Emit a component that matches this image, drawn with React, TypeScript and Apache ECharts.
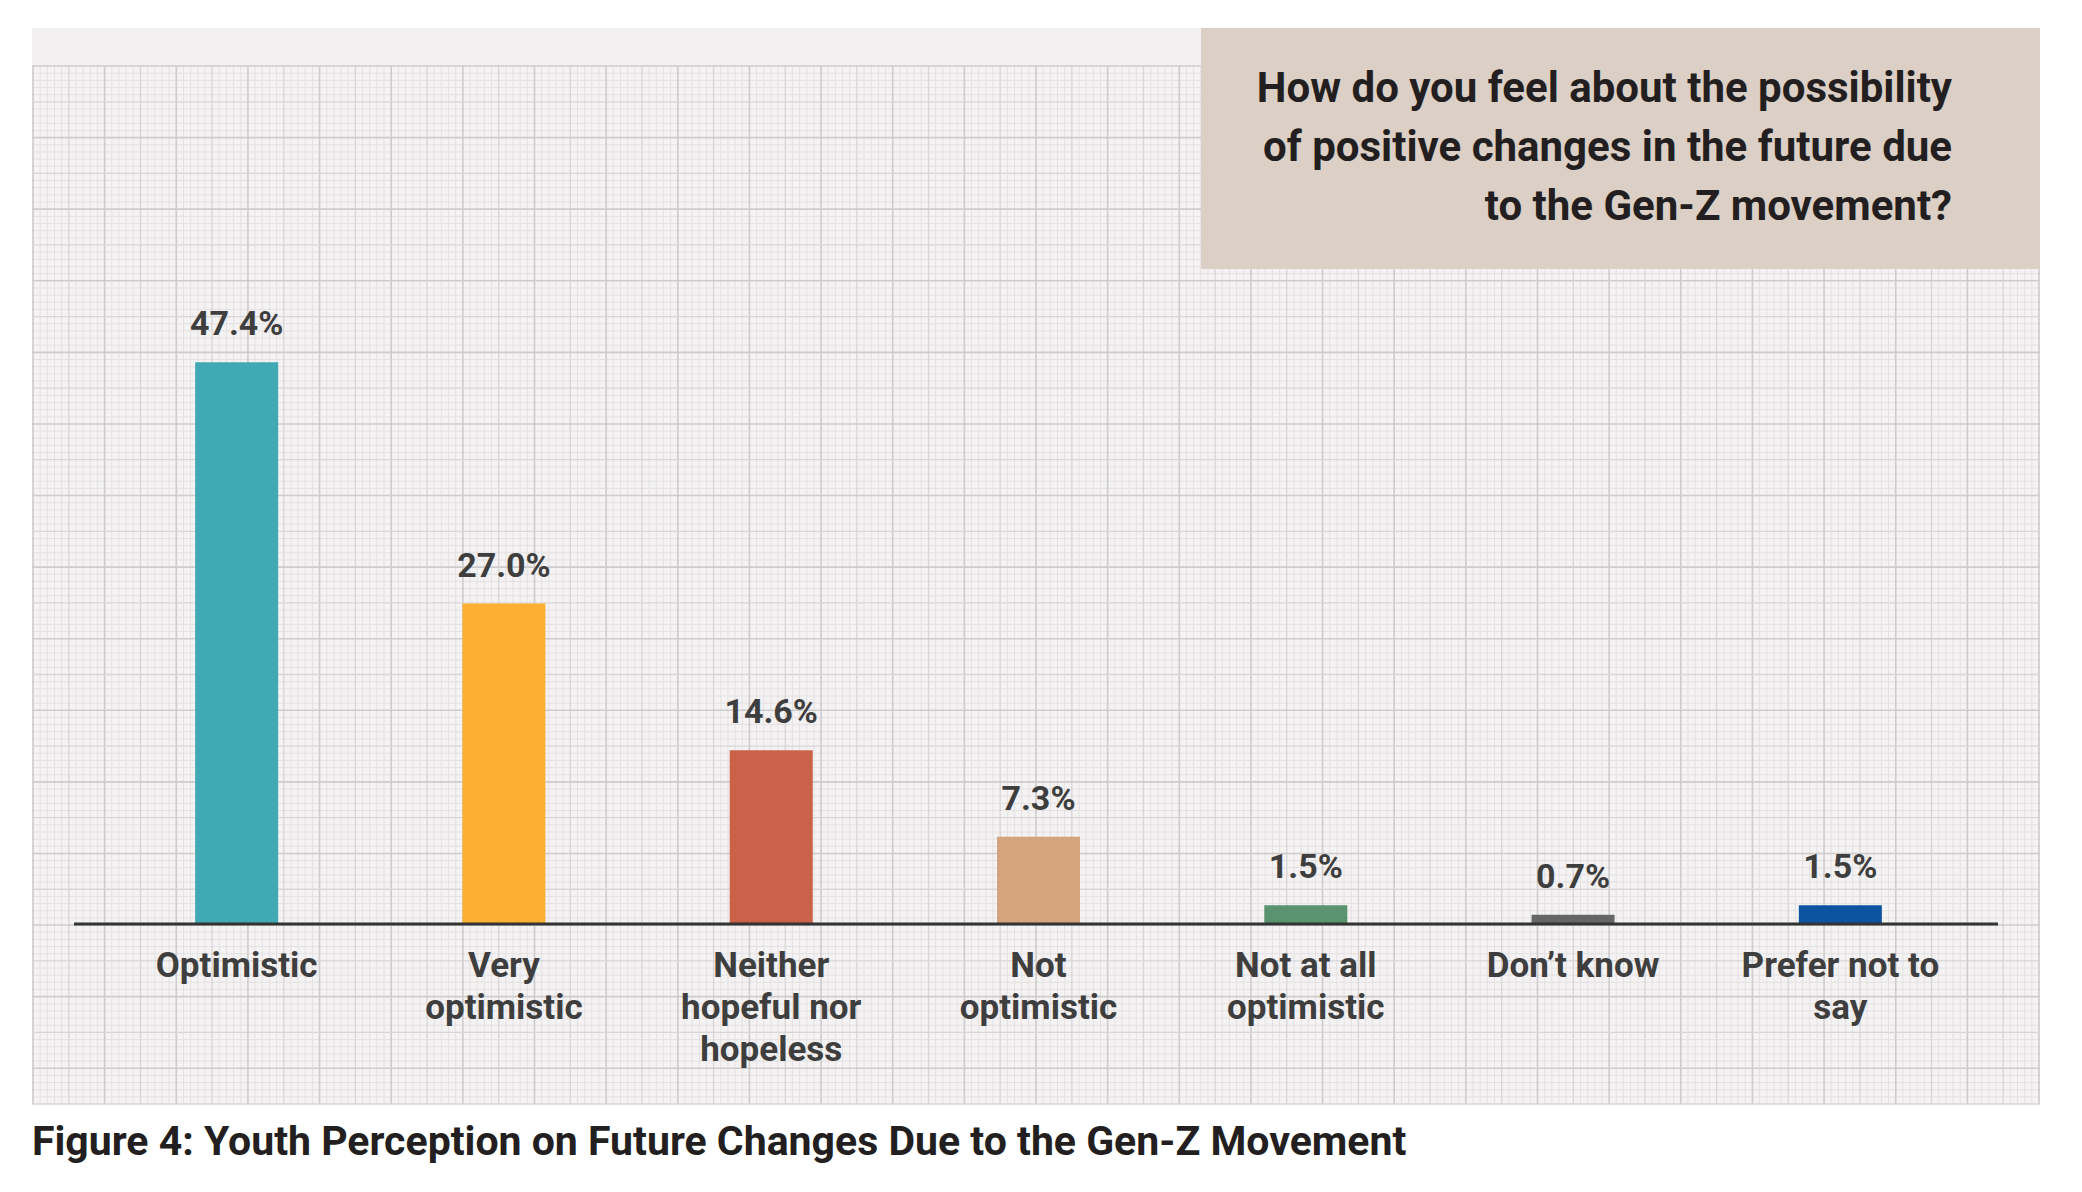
import React, { useEffect, useRef } from "react";
import * as echarts from "echarts";

const categories = [
  "Optimistic",
  "Very\noptimistic",
  "Neither\nhopeful nor\nhopeless",
  "Not\noptimistic",
  "Not at all\noptimistic",
  "Don’t know",
  "Prefer not to\nsay",
];
const values = [47.4, 27.0, 14.6, 7.3, 1.5, 0.7, 1.5];
const barColors = ["#41a9b3", "#fbb034", "#cb6149", "#d4a47e", "#5a936f", "#666665", "#0c54a0"];
const questionLines = [
  "How do you feel about the possibility",
  "of positive changes in the future due",
  "to the Gen-Z movement?",
];
const figureTitle = "Figure 4: Youth Perception on Future Changes Due to the Gen-Z Movement";

const FONT = "Roboto, 'Liberation Sans', sans-serif";

function buildPaper(): any[] {
  const els: any[] = [];
  const L = 32, R = 2040, T = 66, B = 1104;
  els.push({ type: "rect", z: 0, silent: true, shape: { x: L, y: 28, width: R - L, height: T - 28 }, style: { fill: "#f2f0f0" } });
  els.push({ type: "rect", z: 0, silent: true, shape: { x: L, y: T, width: R - L, height: B - T }, style: { fill: "#f4f2f2" } });
  const nx = 56, ny = 29;
  const sx = (R - 1 - (L + 1)) / nx;
  const sy = (B - T) / ny;
  const minor = "#e4e1e2", medium = "#d8d5d6", major = "#cecbcc";
  for (let k = 0; k < nx; k++) {
    for (let j = 1; j < 5; j++) {
      const x = L + 1 + k * sx + (j * sx) / 5;
      els.push({ type: "line", z: 0, silent: true, shape: { x1: x, y1: T, x2: x, y2: B }, style: { stroke: minor, lineWidth: 1 } });
    }
  }
  for (let k = 0; k < ny; k++) {
    for (let j = 1; j < 5; j++) {
      const y = T + k * sy + (j * sy) / 5;
      els.push({ type: "line", z: 0, silent: true, shape: { x1: L, y1: y, x2: R, y2: y }, style: { stroke: minor, lineWidth: 1 } });
    }
  }
  for (let k = 0; k <= nx; k++) {
    const x = L + 1 + k * sx;
    els.push({ type: "line", z: 0, silent: true, shape: { x1: x, y1: T, x2: x, y2: B }, style: { stroke: k % 2 === 0 ? major : medium, lineWidth: k % 2 === 0 ? 1.6 : 1.3 } });
  }
  for (let k = 0; k <= ny; k++) {
    const y = T + k * sy;
    els.push({ type: "line", z: 0, silent: true, shape: { x1: L, y1: y, x2: R, y2: y }, style: { stroke: k % 2 === 0 ? major : medium, lineWidth: k % 2 === 0 ? 1.6 : 1.3 } });
  }
  els.push({ type: "rect", z: 1, silent: true, shape: { x: 1201, y: 28, width: R - 1201, height: 241 }, style: { fill: "#dbcfc6" } });
  els.push({
    type: "text",
    z: 3,
    silent: true,
    x: 1952,
    y: 58,
    style: {
      text: questionLines.join("\n"),
      fill: "#231f20",
      font: `bold 42px ${FONT}`,
      lineHeight: 59,
      align: "right",
      verticalAlign: "top",
    },
  });
  els.push({ type: "line", z: 10, silent: true, shape: { x1: 74, y1: 924, x2: 1998, y2: 924 }, style: { stroke: "#333333", lineWidth: 3 } });
  els.push({
    type: "text",
    z: 3,
    silent: true,
    x: 32,
    y: 1120,
    style: {
      text: figureTitle,
      fill: "#231f20",
      font: `bold 41px ${FONT}`,
      verticalAlign: "top",
      align: "left",
    },
  });
  return els;
}

export default function App() {
  const ref = useRef<HTMLDivElement>(null);
  useEffect(() => {
    if (!ref.current) return;
    const chart = echarts.init(ref.current, null, { renderer: "svg" });
    chart.setOption({
      animation: false,
      backgroundColor: "#ffffff",
      graphic: { elements: buildPaper() },
      grid: { left: 103, right: 2082 - 103 - 1871, top: 923 - 591.5, bottom: 1192 - 923, containLabel: false },
      xAxis: {
        type: "category",
        data: categories,
        axisLine: { show: false },
        axisTick: { show: false },
        axisLabel: {
          interval: 0,
          margin: 21,
          color: "#3e3e3e",
          fontFamily: FONT,
          fontWeight: "bold",
          fontSize: 35,
          lineHeight: 42,
          align: "center",
        },
        splitLine: { show: false },
      },
      yAxis: {
        type: "value",
        min: 0,
        max: 50,
        show: false,
        splitLine: { show: false },
      },
      series: [
        {
          type: "bar",
          z: 5,
          barWidth: 83,
          data: values.map((v, i) => ({ value: v, itemStyle: { color: barColors[i] } })),
          label: {
            show: true,
            position: "top",
            distance: 22,
            formatter: (p: any) => `${Number(p.value).toFixed(1)}%`,
            color: "#3e3e3e",
            fontFamily: FONT,
            fontWeight: "bold",
            fontSize: 34,
          },
        },
      ],
    });
    return () => chart.dispose();
  }, []);
  return <div ref={ref} style={{ position: "absolute", left: 0, top: 0, width: 2082, height: 1192 }} />;
}
